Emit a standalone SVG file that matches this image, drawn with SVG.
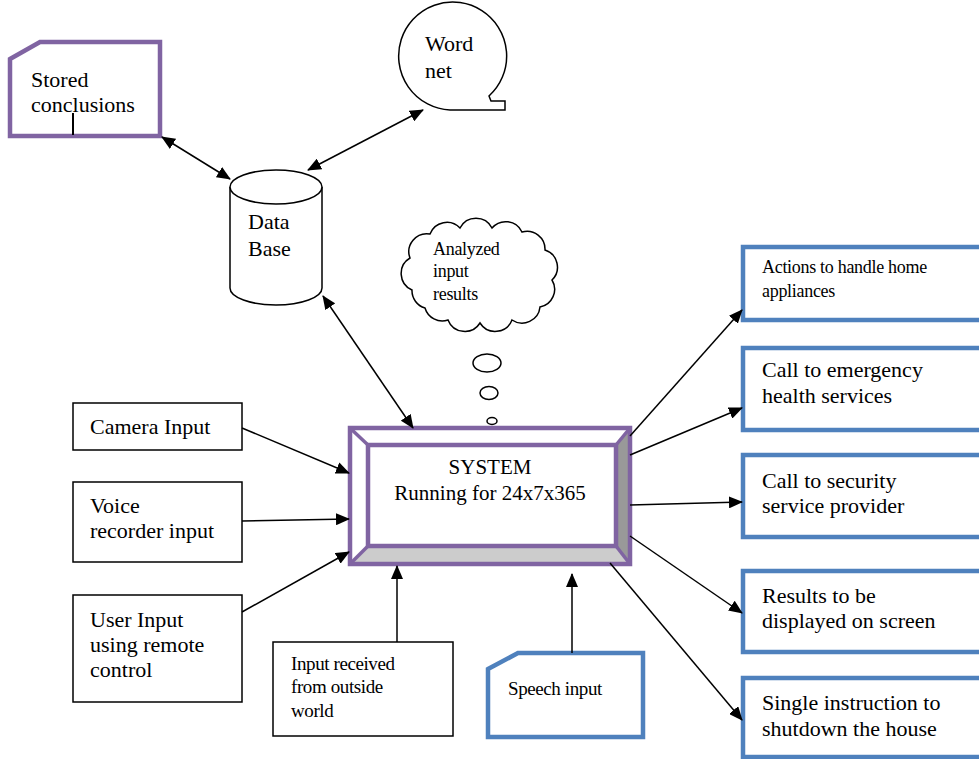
<svg xmlns="http://www.w3.org/2000/svg" width="979" height="759" viewBox="0 0 979 759" font-family="'Liberation Serif', 'Times New Roman', serif">
<style>
text{font-family:"Liberation Serif","Times New Roman",serif;fill:#000;font-size:22px}
.sm{font-size:18px;letter-spacing:-0.3px}
.box{fill:#fff;stroke:#000;stroke-width:1.5}
.pur{fill:#fff;stroke:#8064A2;stroke-width:4.5}
.blu{fill:#fff;stroke:#4F81BD;stroke-width:4.5}
.thin{fill:#fff;stroke:#000;stroke-width:1.5}
.conn line{stroke:#000;stroke-width:1.5}
</style>
<defs>
<marker id="ah" markerUnits="userSpaceOnUse" markerWidth="14" markerHeight="12" refX="13" refY="6" orient="auto-start-reverse" viewBox="0 0 14 12">
<path d="M0,0 L14,6 L0,12 z" fill="#000"/>
</marker>
</defs>
<rect width="979" height="759" fill="#fff"/>

<g id="stored">
<polygon class="pur" points="10,59 40,42 160,42 160,136 10,136"/>
<text x="31" y="87">Stored</text>
<text x="31" y="112">conclusions</text>
<line x1="73" y1="113" x2="73" y2="135" stroke="#000" stroke-width="2"/>
</g>

<g id="wordnet">
<path class="thin" d="M450,110 L505,110 L505,101 L491,101 L489,96 A54 54 0 1 0 450,110 Z"/>
<text x="425" y="51">Word</text>
<text x="425" y="78">net</text>
</g>

<g id="database">
<path class="thin" d="M230,187 L230,288 A46 17 0 0 0 322,288 L322,187"/>
<ellipse class="thin" cx="276" cy="187" rx="46" ry="17"/>
<text x="248" y="229">Data</text>
<text x="248" y="256">Base</text>
</g>

<g id="cloud">
<path class="thin" d="M412,290 A18 18 0 0 1 410,258 A18 18 0 0 1 430,234 A18 18 0 0 1 460,228 A18 18 0 0 1 492,228 A18 18 0 0 1 522,232 A18 18 0 0 1 545,250 A18 18 0 0 1 552,280 A18 18 0 0 1 540,307 A18 18 0 0 1 512,320 A18 18 0 0 1 480,323 A18 18 0 0 1 448,320 A18 18 0 0 1 425,308 A18 18 0 0 1 412,290 Z"/>
<text class="sm" x="433" y="255">Analyzed</text>
<text class="sm" x="433" y="277">input</text>
<text class="sm" x="433" y="300">results</text>
<ellipse class="thin" cx="487" cy="363" rx="14" ry="9"/>
<ellipse class="thin" cx="489" cy="393" rx="9" ry="6.5"/>
<ellipse class="thin" cx="492" cy="421" rx="5" ry="3.5"/>
</g>

<g id="system">
<rect x="350" y="428" width="280" height="136" fill="#fff"/>
<polygon points="630,428 630,564 616,546 616,445" fill="#999"/>
<polygon points="350,564 630,564 616,546 368,546" fill="#ccc"/>
<g stroke="#8064A2" stroke-width="3.5">
<line x1="350" y1="428" x2="368" y2="445"/>
<line x1="630" y1="428" x2="616" y2="445"/>
<line x1="350" y1="564" x2="368" y2="546"/>
<line x1="630" y1="564" x2="616" y2="546"/>
</g>
<rect x="350" y="428" width="280" height="136" fill="none" stroke="#8064A2" stroke-width="4.5"/>
<rect x="368" y="445" width="248" height="101" fill="#fff" stroke="#8064A2" stroke-width="4.5"/>
<text x="490" y="474" text-anchor="middle" style="font-size:21px">SYSTEM</text>
<text x="490" y="500" text-anchor="middle" style="font-size:21px">Running for 24x7x365</text>
</g>

<g id="camera">
<rect class="box" x="73" y="403" width="169" height="47"/>
<text x="90" y="434">Camera Input</text>
</g>
<g id="voice">
<rect class="box" x="73" y="482" width="169" height="80"/>
<text x="90" y="513">Voice</text>
<text x="90" y="538">recorder input</text>
</g>
<g id="user">
<rect class="box" x="73" y="595" width="169" height="107"/>
<text x="90" y="627">User Input</text>
<text x="90" y="652">using remote</text>
<text x="90" y="677">control</text>
</g>
<g id="outside">
<rect class="box" x="273" y="642" width="180" height="94"/>
<text x="291" y="670" style="font-size:19px;letter-spacing:-0.4px">Input received</text>
<text x="291" y="693" style="font-size:19px;letter-spacing:-0.4px">from outside</text>
<text x="291" y="717" style="font-size:19px;letter-spacing:-0.4px">world</text>
</g>
<g id="speech">
<polygon class="blu" points="488,669 518,653 643,653 643,737 488,737"/>
<text x="508" y="695" style="font-size:19px;letter-spacing:-0.4px">Speech input</text>
</g>

<g id="actions">
<rect class="blu" x="743" y="247" width="245" height="73"/>
<text class="sm" x="762" y="273">Actions to handle home</text>
<text class="sm" x="762" y="297">appliances</text>
</g>
<g id="emergency">
<rect class="blu" x="743" y="348" width="245" height="82"/>
<text x="762" y="377">Call to emergency</text>
<text x="762" y="403">health services</text>
</g>
<g id="security">
<rect class="blu" x="743" y="455" width="245" height="82"/>
<text x="762" y="488">Call to security</text>
<text x="762" y="513">service provider</text>
</g>
<g id="results">
<rect class="blu" x="743" y="571" width="245" height="81"/>
<text x="762" y="603">Results to be</text>
<text x="762" y="628">displayed on screen</text>
</g>
<g id="shutdown">
<rect class="blu" x="743" y="678" width="245" height="79"/>
<text x="762" y="710">Single instruction to</text>
<text x="762" y="736">shutdown the house</text>
</g>

<g class="conn">
<line x1="162" y1="137" x2="230" y2="179" marker-start="url(#ah)" marker-end="url(#ah)"/>
<line x1="423" y1="110" x2="308" y2="170" marker-start="url(#ah)" marker-end="url(#ah)"/>
<line x1="323" y1="296" x2="413" y2="428" marker-start="url(#ah)" marker-end="url(#ah)"/>
<line x1="242" y1="428" x2="349" y2="473" marker-end="url(#ah)"/>
<line x1="242" y1="521" x2="349" y2="519" marker-end="url(#ah)"/>
<line x1="242" y1="612" x2="349" y2="552" marker-end="url(#ah)"/>
<line x1="397" y1="642" x2="397" y2="566" marker-end="url(#ah)"/>
<line x1="572" y1="653" x2="572" y2="574" marker-end="url(#ah)"/>
<line x1="630" y1="436" x2="742" y2="310" marker-end="url(#ah)"/>
<line x1="630" y1="455" x2="742" y2="408" marker-end="url(#ah)"/>
<line x1="630" y1="505" x2="742" y2="502" marker-end="url(#ah)"/>
<line x1="630" y1="536" x2="742" y2="613" marker-end="url(#ah)"/>
<line x1="610" y1="563" x2="742" y2="720" marker-end="url(#ah)"/>
</g>
</svg>
